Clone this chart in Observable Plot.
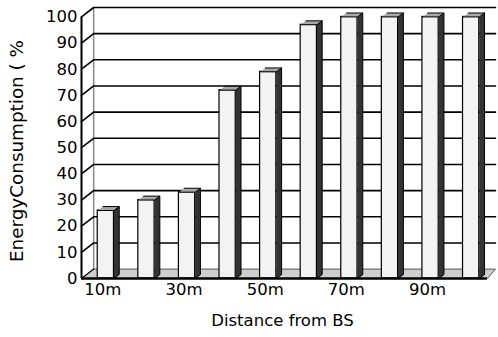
<!DOCTYPE html>
<html><head><meta charset="utf-8">
<script src="https://cdn.jsdelivr.net/npm/d3@7"></script>
<script src="https://cdn.jsdelivr.net/npm/@observablehq/plot@0.6"></script>
<style>body{margin:0;background:#fff}</style>
</head><body><div id="chart"></div>
<script>
// ---- data ----
const distances = [10, 20, 30, 40, 50, 60, 70, 80, 90, 100];
const energy = [26, 30, 33, 72, 79, 97, 100, 100, 100, 100];
const yTicks = [0, 10, 20, 30, 40, 50, 60, 70, 80, 90, 100];
const xTickValues = [10, 30, 50, 70, 90];
const xTickLabels = ["10m", "30m", "50m", "70m", "90m"];
const xLabel = "Distance from BS";
const yLabel = "EnergyConsumption ( %";

// ---- 3D geometry (in data units) ----
const X0 = 4, XF = 104, XMAX = 106, DX = 3, DY = 3.6;
const HW = 2, SX = 1.3, SY = 1.5;

const bars = distances.map((d, i) => ({d, v: energy[i]}));
const poly = (id, pts) => pts.map(([x, y]) => ({id, x, y}));
const sides = bars.flatMap(b => poly(b.d, [[b.d + HW, 0], [b.d + HW + SX, SY], [b.d + HW + SX, b.v + SY], [b.d + HW, b.v]]));
const tops = bars.flatMap(b => poly(b.d, [[b.d - HW, b.v], [b.d + HW, b.v], [b.d + HW + SX, b.v + SY], [b.d - HW + SX, b.v + SY]]));
const grid = yTicks.filter(t => t > 0).flatMap(t => poly(t, [[X0, t], [X0 + DX, t + DY], [XMAX, t + DY]]));
const floor = poly("floor", [[X0, 0], [XF, 0], [XMAX, DY], [X0 + DX, DY]]);
const floorSlant = poly("fs", [[X0, 0], [X0 + DX, DY]]);
const backLeft = poly("bl", [[X0 + DX, DY], [X0 + DX, 100 + DY]]);

const chart = Plot.plot({
  width: 498, height: 337,
  marginLeft: 81, marginRight: 3, marginTop: 7, marginBottom: 59,
  style: {fontFamily: "DejaVu Sans", fontSize: "16.5px", color: "black", background: "white"},
  x: {domain: [X0, XMAX]},
  y: {domain: [0, 100 + DY]},
  marks: [
    Plot.line(floor, {x: "x", y: "y", z: "id", fill: "#cfcfcf", stroke: "#555", strokeWidth: 1}),
    Plot.line(backLeft, {x: "x", y: "y", stroke: "#888", strokeWidth: 1.5}),
    Plot.line(grid, {x: "x", y: "y", z: "id", stroke: "black", strokeWidth: 1.6}),
    Plot.line(floorSlant, {x: "x", y: "y", stroke: "black", strokeWidth: 1.2}),
    Plot.line(sides, {x: "x", y: "y", z: "id", fill: "#333", stroke: "black", strokeWidth: 1}),
    Plot.rect(bars, {x1: d => d.d - HW, x2: d => d.d + HW, y1: 0, y2: "v", fill: "#f3f3f3", stroke: "black", strokeWidth: 1.2}),
    Plot.line(tops, {x: "x", y: "y", z: "id", fill: "#a8a8a8", stroke: "black", strokeWidth: 1}),
    Plot.ruleX([X0], {y1: 0, y2: 100, stroke: "black", strokeWidth: 2}),
    Plot.ruleY([0], {x1: X0, x2: XF, stroke: "black", strokeWidth: 2.5}),
    Plot.axisY({ticks: yTicks, tickSize: 0, tickPadding: 4, label: null}),
    Plot.axisX({ticks: xTickValues, tickFormat: d => xTickLabels[xTickValues.indexOf(d)], tickSize: 0, tickPadding: 5, label: null, dx: -3}),
    Plot.text([yLabel], {frameAnchor: "left", rotate: -90, textAnchor: "start", dx: -64, dy: 119, fontSize: 18}),
    Plot.text([xLabel], {frameAnchor: "bottom", dx: -6, dy: 47, fontSize: 16.5})
  ]
});
document.getElementById("chart").appendChild(chart);
d3.select(chart).selectAll("text").filter(function () { return this.textContent === yLabel; })
  .attr("textLength", 222).attr("lengthAdjust", "spacingAndGlyphs");
</script>
</body></html>
